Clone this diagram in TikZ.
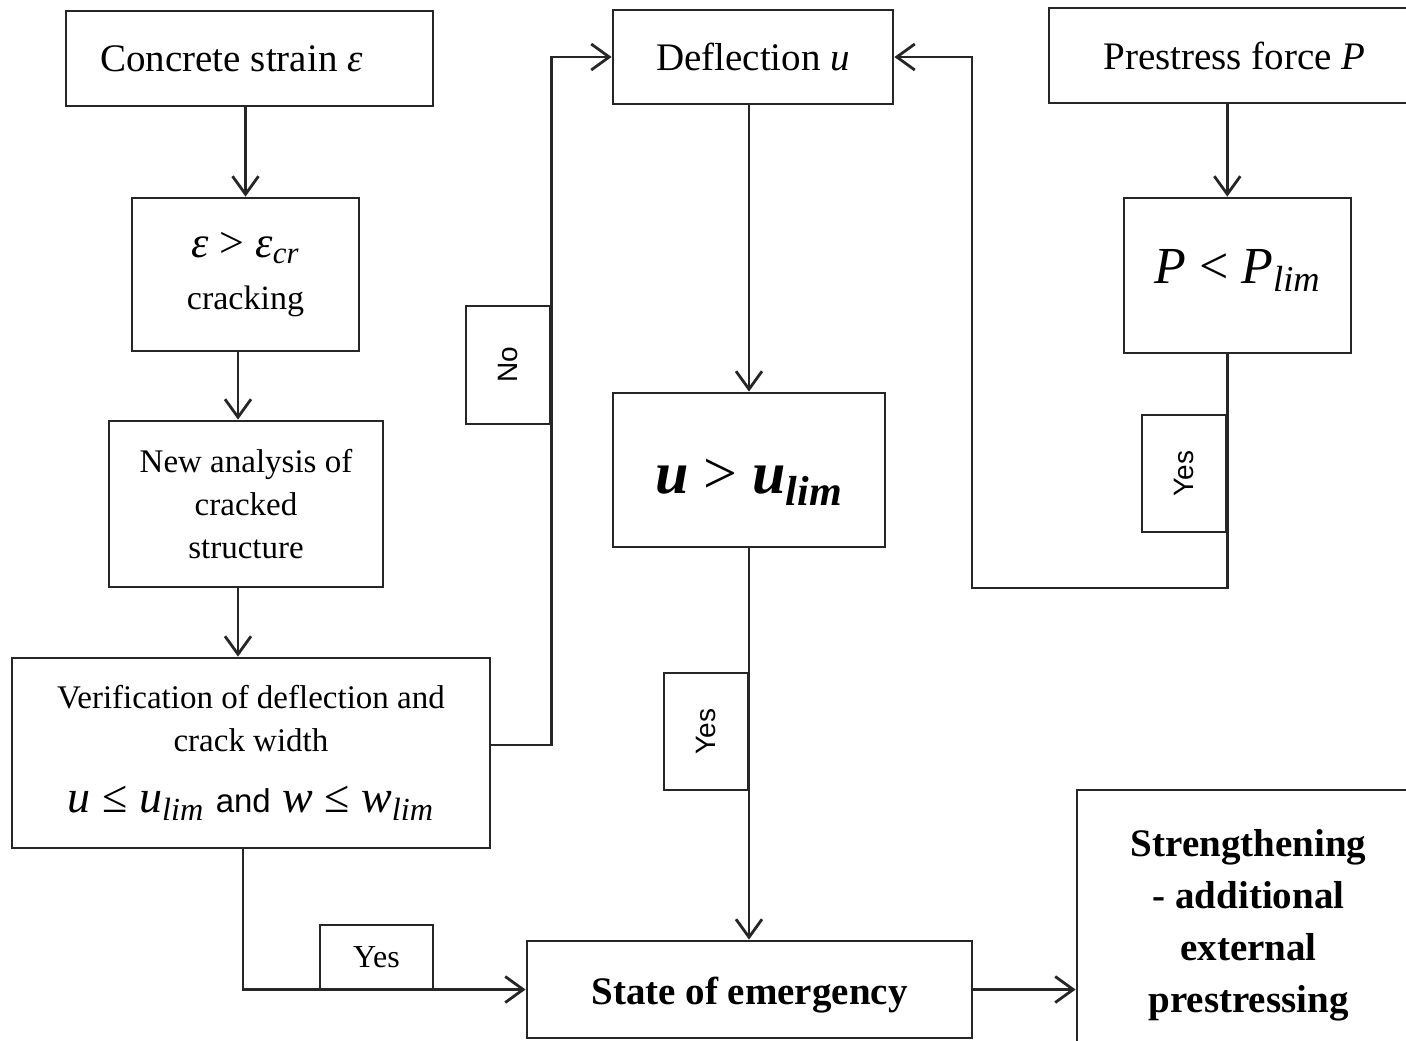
\documentclass[tikz,border=0pt]{standalone}
\usepackage{fontspec}
\setmainfont{Liberation Serif}
\newfontfamily\arialf{Liberation Sans}
\usetikzlibrary{arrows.meta}
\begin{document}
\begin{tikzpicture}[x=0.5pt,y=-0.5pt,
  box/.style={draw=black!85, line width=1.4pt, inner sep=0pt, align=center, font=\fontsize{16.5}{21.5}\selectfont},
  lab/.style={draw=black!85, line width=1.3pt, inner sep=0pt},
  conn/.style={draw=black!85, line width=1.4pt},
  arr/.style={conn, -{Straight Barb[length=9pt,width=13pt,line width=1.4pt]}},
]
\fill[white] (0,0) rectangle (1406,1040);
\useasboundingbox (0,0) rectangle (1406,1040);
\clip (0,0) rectangle (1406,1040);

% main boxes
\node[box, minimum width=183.5pt, minimum height=47.5pt, font=\fontsize{19.5}{24}\selectfont] (A) at (249.5,58.5) {Concrete strain \textit{ε}\hspace{18pt}};
\node[box, minimum width=113.5pt, minimum height=76.5pt, font=\fontsize{17}{26}\selectfont] (B) at (245.5,274.5) {{\fontsize{22}{26}\selectfont\textit{ε} > \textit{ε}\textsubscript{\textit{cr}}}\\cracking};
\node[box, minimum width=137pt, minimum height=83pt] (C) at (246,504) {New analysis of\\cracked\\structure};
\node[box, minimum width=239pt, minimum height=95pt] (D) at (251,753) {Verification of deflection and\\crack width\\[9pt]{\fontsize{23}{26}\selectfont\textit{u} ≤ \textit{u}\textsubscript{\textit{lim}} {\arialf\fontsize{16.5}{20}\selectfont and} \textit{w} ≤ \textit{w}\textsubscript{\textit{lim}}}};
\node[box, minimum width=140pt, minimum height=47pt, font=\fontsize{19.5}{24}\selectfont] (E) at (753,57) {Deflection \textit{u}};
\node[box, minimum width=136pt, minimum height=77pt] (F) at (749,470) {\fontsize{30}{36}\selectfont\raisebox{-6pt}[\height][\depth]{\bfseries\itshape u {\mdseries\upshape >} u\textsubscript{lim}}};
\node[box, minimum width=222.5pt, minimum height=48.5pt, font=\fontsize{19.5}{24}\selectfont\bfseries] (G) at (749.5,989.5) {\raisebox{-3pt}[\height][\depth]{State of emergency}};
\node[box, minimum width=171.5pt, minimum height=127.5pt, font=\fontsize{19.5}{26}\selectfont\bfseries] (H) at (1248.5,917.5) {\raisebox{-3.5pt}[\height][\depth]{\begin{tabular}{@{}c@{}}Strengthening\\- additional\\external\\prestressing\end{tabular}}};
\node[box, minimum width=185.5pt, minimum height=47.5pt, font=\fontsize{19.5}{24}\selectfont] (I) at (1234.5,55.5) {Prestress force \textit{P}};
\node[box, minimum width=113.5pt, minimum height=77.5pt] (J) at (1237.5,275.5) {\fontsize{26}{30}\selectfont\raisebox{2.5pt}[\height][\depth]{\textit{P} < \textit{P}\textsubscript{\textit{lim}}}};

% label boxes
\node[lab, minimum width=42pt, minimum height=59pt] (No) at (508,365) {\rotatebox{90}{\arialf\fontsize{14}{16}\selectfont No}};
\node[lab, minimum width=42pt, minimum height=58.5pt] (Yf) at (706,731.5) {\rotatebox{90}{\arialf\fontsize{14}{16}\selectfont Yes}};
\node[lab, minimum width=42pt, minimum height=58.5pt] (Yj) at (1184,473.5) {\rotatebox{90}{\arialf\fontsize{14}{16}\selectfont Yes}};
\node[lab, minimum width=56.5pt, minimum height=32.5pt, font=\fontsize{16}{18}\selectfont] (Yb) at (376.5,957.5) {Yes};

\coordinate (bc) at (238,0);
\coordinate (dg) at (243,0);
\coordinate (jr) at (972,588);
\coordinate (de) at (490,745);

% connectors
\draw[arr] (B.north |- A.south) -- (B.north);
\draw[arr] (bc |- B.south) -- (bc |- C.north);
\draw[arr] (bc |- C.south) -- (bc |- D.north);
\draw[arr] (de) -- (de -| No.east) -- (No.east |- E.west) -- (E.west);
\draw[arr] (F.north |- E.south) -- (F.north);
\draw[arr] (F.south) -- (F.south |- G.north);
\draw[arr] (G.east) -- (G.east -| H.west);
\draw[arr] (Yj.east |- I.south) -- (Yj.east |- J.north);
\draw[arr] (Yj.east |- J.south) -- (Yj.east |- jr) -- (jr) -- (jr |- E.east) -- (E.east);
\draw[arr] (dg |- D.south) -- (dg |- G.west) -- (G.west);
\end{tikzpicture}
\end{document}
